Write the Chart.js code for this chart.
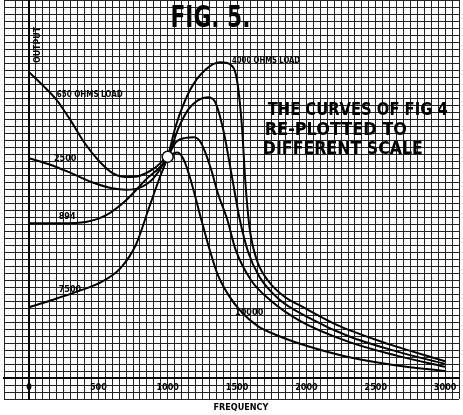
<!DOCTYPE html>
<html>
<head>
<meta charset="utf-8">
<script src="https://cdn.jsdelivr.net/npm/chart.js@4"></script>
<style>
  body { margin: 0; background: #fff; }
  #wrap { width: 463px; height: 415px; position: relative; }
</style>
</head>
<body>
<div id="wrap"><canvas id="fig5"></canvas></div>
<script>
// --- DATA (x = frequency, y = output in grid squares) ---
const xTickLabels = [0, 500, 1000, 1500, 2000, 2500, 3000];

const freq650 = [0, 100, 200, 300, 400, 500, 600, 700, 800, 900, 1000, 1070, 1120, 1170, 1240, 1300, 1360, 1440, 1520, 1650, 1800, 2000, 2300, 2650, 3000];
const out650 = [43.7, 41.8, 39.7, 36.8, 33.6, 31.1, 29.3, 28.7, 28.9, 29.9, 31.6, 32.2, 31.0, 28.0, 22.8, 18.5, 14.8, 11.8, 9.7, 7.4, 6.0, 4.6, 3.0, 1.8, 1.0];

const freq2500 = [0, 150, 300, 450, 600, 700, 800, 900, 1000, 1060, 1130, 1190, 1240, 1310, 1360, 1430, 1490, 1600, 1740, 1950, 2300, 2650, 3000];
const out2500 = [31.4, 30.5, 29.3, 28.0, 27.1, 26.9, 27.2, 28.6, 31.6, 33.7, 34.3, 34.4, 33.6, 30.0, 26.5, 22.6, 18.3, 14.0, 11.1, 8.2, 5.2, 3.2, 1.6];

const freq894 = [0, 240, 410, 560, 700, 840, 1000, 1080, 1150, 1220, 1290, 1340, 1400, 1470, 1520, 1580, 1660, 1800, 2020, 2300, 2650, 3000];
const out894 = [22.1, 22.1, 22.3, 23.3, 25.4, 28.3, 31.6, 35.8, 38.4, 39.7, 40.1, 39.5, 35.5, 28.0, 22.6, 18.0, 14.5, 11.3, 8.6, 6.0, 3.8, 2.0];

const freq7500 = [0, 160, 340, 520, 660, 770, 860, 940, 1000, 1060, 1160, 1270, 1380, 1450, 1500, 1535, 1560, 1590, 1640, 1720, 1850, 1950, 2240, 2600, 3000];
const out7500 = [10.1, 11.1, 12.3, 13.7, 15.7, 19.0, 24.0, 28.5, 31.6, 36.1, 41.1, 44.0, 45.1, 44.8, 42.5, 36.0, 28.0, 21.5, 17.0, 14.0, 11.5, 10.4, 7.4, 4.8, 2.4];

// common crossing point, ringed on the original
const crossFreq = [1000];
const crossOut = [31.6];

function toPoints(xs, ys) {
    return xs.map((x, i) => ({ x: x, y: ys[i] }));
}

// --- TEXT ON THE FIGURE (placed through the scales) ---
const notes = [
    { text: 'FIG. 5.', x: 1020, y: 51.3, font: 'bold 30px "DejaVu Sans Condensed", sans-serif', w: 80 },
    { text: 'THE CURVES OF FIG 4', x: 1721, y: 38.3, font: 'bold 18px "DejaVu Sans Condensed", sans-serif', w: 180 },
    { text: 'RE-PLOTTED TO', x: 1700, y: 35.4, font: 'bold 18px "DejaVu Sans Condensed", sans-serif', w: 142 },
    { text: 'DIFFERENT SCALE', x: 1686, y: 32.6, font: 'bold 18px "DejaVu Sans Condensed", sans-serif', w: 160 },
    { text: '650 OHMS LOAD', x: 200, y: 40.4, font: 'bold 8px "DejaVu Sans Condensed", sans-serif', w: 66 },
    { text: '2500', x: 180, y: 31.4, font: 'bold 9px "DejaVu Sans Condensed", sans-serif', w: 25 },
    { text: '894', x: 214, y: 23.0, font: 'bold 9px "DejaVu Sans Condensed", sans-serif', w: 24 },
    { text: '7500', x: 214, y: 12.6, font: 'bold 9px "DejaVu Sans Condensed", sans-serif', w: 28 },
    { text: '4000 OHMS LOAD', x: 1464, y: 45.3, font: 'bold 8px "DejaVu Sans Condensed", sans-serif', w: 68 },
    { text: '10000', x: 1486, y: 9.4, font: 'bold 9px "DejaVu Sans Condensed", sans-serif', w: 30 },
];

const figureText = {
    id: 'figureText',
    beforeDraw(chart) {
        const ctx = chart.ctx;
        ctx.save();
        ctx.fillStyle = '#fff';
        ctx.fillRect(0, 0, chart.width, chart.height);
        ctx.restore();
    },
    afterDraw(chart) {
        const ctx = chart.ctx;
        const xs = chart.scales.x;
        const ys = chart.scales.y;
        ctx.save();
        ctx.fillStyle = '#000';
        ctx.textBaseline = 'middle';
        ctx.textAlign = 'left';
        notes.forEach((n) => {
            ctx.font = n.font;
            ctx.fillText(n.text, xs.getPixelForValue(n.x), ys.getPixelForValue(n.y), n.w);
        });
        // axis titles
        ctx.font = 'bold 9px "DejaVu Sans Condensed", sans-serif';
        ctx.fillText('FREQUENCY', xs.getPixelForValue(1330), chart.chartArea.bottom + 9, 70);
        ctx.translate(xs.getPixelForValue(60), ys.getPixelForValue(45));
        ctx.rotate(-Math.PI / 2);
        ctx.fillText('OUTPUT', 0, 0, 36);
        ctx.restore();
    },
};

const curveStyle = {
    borderColor: '#000',
    borderWidth: 2,
    pointRadius: 0,
    fill: false,
    cubicInterpolationMode: 'monotone',
};

new Chart(document.getElementById('fig5'), {
    type: 'line',
    data: {
        datasets: [
            { label: '650', data: toPoints(freq650, out650), ...curveStyle },
            { label: '2500', data: toPoints(freq2500, out2500), ...curveStyle },
            { label: '894', data: toPoints(freq894, out894), ...curveStyle },
            { label: '7500', data: toPoints(freq7500, out7500), ...curveStyle },
            {
                type: 'scatter',
                label: 'crossing',
                data: toPoints(crossFreq, crossOut),
                pointRadius: 5.5,
                pointBorderWidth: 1.5,
                borderColor: '#000',
                backgroundColor: '#fff',
                order: -1,
            },
        ],
    },
    options: {
        responsive: true,
        maintainAspectRatio: false,
        animation: false,
        layout: { autoPadding: false, padding: { left: 2, right: 2, top: 0, bottom: 16 } },
        plugins: {
            legend: { display: false },
            tooltip: { enabled: false },
        },
        scales: {
            x: {
                type: 'linear',
                position: { y: 0 },
                min: -180,
                max: 3100,
                grid: { color: '#222', lineWidth: 1, drawTicks: false },
                border: { display: true, color: '#000', width: 2 },
                ticks: {
                    stepSize: 50,
                    autoSkip: false,
                    maxRotation: 0,
                    padding: 4,
                    color: '#000',
                    font: { family: '"DejaVu Sans Condensed", sans-serif', size: 9, weight: 'bold' },
                    callback: (v) => (xTickLabels.includes(v) ? String(v) : ''),
                },
            },
            y: {
                type: 'linear',
                position: { x: 0 },
                min: -3,
                max: 54,
                grid: { color: '#222', lineWidth: 1, drawTicks: false },
                border: { display: true, color: '#000', width: 2 },
                ticks: { stepSize: 1, display: false },
            },
        },
    },
    plugins: [figureText],
});
</script>
</body>
</html>
